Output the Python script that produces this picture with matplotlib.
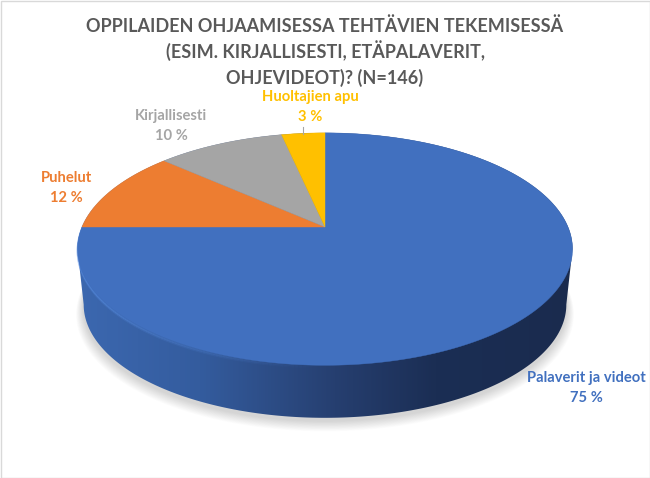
import numpy as np
import matplotlib.pyplot as plt
from matplotlib.colors import LinearSegmentedColormap
from matplotlib.patches import Polygon, Rectangle

plt.rcParams['font.family'] = ['Lato', 'DejaVu Sans']

title_lines = ["OPPILAIDEN OHJAAMISESSA TEHTÄVIEN TEKEMISESSÄ",
               "(ESIM. KIRJALLISESTI, ETÄPALAVERIT,",
               "OHJEVIDEOT)? (N=146)"]
categories = ["Palaverit ja videot", "Puhelut", "Kirjallisesti", "Huoltajien apu"]
# they round to the printed labels
values = [75.0, 11.6, 10.0, 3.4]
colors = ["#4170BF", "#ED7D31", "#A5A5A5", "#FFC000"]
label_x = [586, 66, 171, 310]
label_y = [382, 182, 120, 101]

# pie is a tilted disc, so the centre sits above the middle of the ellipse
cx, cy = 325, 227
A, B, k = 243, 112, 0.19
depth = 56
bottom_scale = 0.975


def project(theta, scale=1.0, dy=0):
    # theta clockwise from the top
    u, v = np.sin(theta), np.cos(theta)
    w = 1 + k * v
    return cx + scale * A * u / w, cy + dy - scale * B * v / w


fig = plt.figure(figsize=(6.5, 4.78), dpi=100)
ax = fig.add_axes([0, 0, 1, 1])
ax.axis('off')
ax.add_patch(Rectangle((0.5, 0.5), 649, 477, fc='white', ec='#D9D9D9', lw=1, zorder=0))

# soft shadow
t = np.linspace(0, 2 * np.pi, 300)
for grow in np.arange(14, 0, -1):
    x, y = project(t, bottom_scale + grow * 0.0022, depth + 3 + grow * 0.45)
    ax.add_patch(Polygon(np.c_[x, y], fc='#000000', ec='none', alpha=0.012, zorder=1))

# wall, a horizontal gradient clipped to the outline of the disc
wall_cmap = LinearSegmentedColormap.from_list(
    "wall", [(0, "#3C68B0"), (0.25, "#345C9E"), (0.52, "#263F70"),
             (0.72, "#1B2E54"), (1, "#1A2B4E")])
turn = np.pi / 2 + np.arcsin(k)
xa, ya = project(np.linspace(-turn, turn, 200))
xb, yb = project(np.linspace(turn, 2 * np.pi - turn, 300), bottom_scale, depth)
outline = Polygon(np.c_[np.r_[xa, xb], np.r_[ya, yb]], fc='none', ec='none')
ax.add_patch(outline)
grad = ax.imshow(np.linspace(0, 1, 512).reshape(1, -1), cmap=wall_cmap, aspect='auto',
                 extent=(cx - A * 1.03, cx + A * 1.03, 440, 120), interpolation='bilinear',
                 zorder=1.5)
grad.set_clip_path(outline)
ax.set_xlim(0, 650)
ax.set_ylim(478, 0)

# lighter bevel along the front left of the rim, under the top face
tt = np.linspace(np.pi, 3 * np.pi / 2 + 0.19, 140)
for i in range(len(tt) - 1):
    fade = min(1, (tt[i] - np.pi) / 1.0)
    for extra, alpha in [(2.5, 0.25), (1.2, 0.5)]:
        x, y = project(tt[i:i + 2], 1.0, extra)
        ax.plot(x, y, color='#5A90E6', lw=1.2, alpha=alpha * fade, solid_capstyle='butt', zorder=2)

# top face, clockwise from 12 o'clock
angles = np.cumsum([0] + values) / sum(values) * 2 * np.pi
for val, col, a0, a1 in zip(values, colors, angles[:-1], angles[1:]):
    tt = np.linspace(a0, a1, max(int(val * 6), 12))
    x, y = project(tt)
    ax.add_patch(Polygon(np.r_[[[cx, cy]], np.c_[x, y]], fc=col, ec=col, lw=0.3, zorder=3))

# leader for the small slice
ax.plot([303, 303], [127, 134], color='#A6A6A6', lw=0.8, zorder=4)

for line, yy in zip(title_lines, [32, 58, 84]):
    ax.text(325, yy, line, ha='center', va='baseline', fontsize=13,
            fontweight='bold', color='#595959')

for cat, val, col, lx, ly in zip(categories, values, colors, label_x, label_y):
    ax.text(lx, ly, cat, ha='center', va='baseline', fontsize=10.6, fontweight='bold', color=col)
    ax.text(lx, ly + 20, "%.0f %%" % val, ha='center', va='baseline', fontsize=10.6,
            fontweight='bold', color=col)

fig.savefig('out.png', dpi=100)
